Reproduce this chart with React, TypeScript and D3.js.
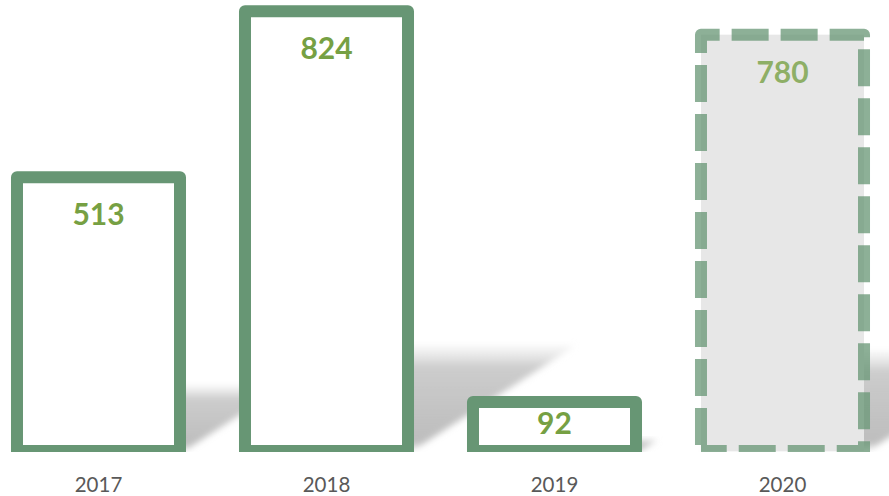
import React from "react";
import * as d3 from "d3";

const categories = ["2017", "2018", "2019", "2020"];
const values = [513, 824, 92, 780];
const forecast = [false, false, false, true];

const W = 889;
const H = 496;

export default function App() {
  const x = d3
    .scaleBand<string>()
    .domain(categories)
    .range([-15.5, 896.5])
    .paddingInner(0.285)
    .paddingOuter(0.1425);
  const y = d3.scaleLinear().domain([0, 900]).range([451, -29.4]);
  const green = "#679674";
  const labelGreen = "#76a043";
  const base = y(0);

  return (
    <svg
      width={W}
      height={H}
      style={{ position: "absolute", left: 0, top: 0, background: "#fff" }}
      fontFamily="Lato, 'Open Sans', sans-serif"
    >
      <defs>
        <linearGradient id="shadowGrad" x1="0" y1="1" x2="0" y2="0">
          <stop offset="0%" stopColor="#9a9a9a" stopOpacity={0.0} />
          <stop offset="8%" stopColor="#a8a8a8" stopOpacity={0.75} />
          <stop offset="80%" stopColor="#c4c4c4" stopOpacity={0.85} />
          <stop offset="100%" stopColor="#e6e6e6" stopOpacity={0.3} />
        </linearGradient>
        <filter id="blur" x="-20%" y="-20%" width="140%" height="140%">
          <feGaussianBlur stdDeviation="3" />
        </filter>
        <clipPath id="plotClip">
          <rect x={0} y={0} width={W} height={452} />
        </clipPath>
      </defs>
      <g clipPath="url(#plotClip)">
        {categories.map((c, i) => {
          const x0 = x(c)!;
          const x1 = x0 + x.bandwidth();
          const top = y(values[i]);
          const hgt = (base - top) * 0.24;
          const s = 1.55;
          const pts = [
            [x0, base],
            [x1 + 4, base],
            [x1 + 4 + s * hgt, base - hgt],
            [x0 + s * hgt, base - hgt],
          ];
          return (
            <polygon
              key={"sh" + c}
              points={pts.map((p) => p.join(",")).join(" ")}
              fill="url(#shadowGrad)"
              filter="url(#blur)"
            />
          );
        })}
        {categories.map((c, i) => {
          const x0 = x(c)!;
          const x1 = x0 + x.bandwidth();
          const top = y(values[i]);
          if (forecast[i]) {
            const d = `M${x0},${base} L${x0},${top} L${x1},${top} L${x1},${base} Z`;
            return (
              <g key={"b" + c}>
                <rect x={x0} y={top} width={x1 - x0} height={base - top} fill="#e7e7e7" />
                <path
                  d={d}
                  fill="none"
                  stroke={green}
                  strokeOpacity={0.75}
                  strokeWidth={12}
                  strokeDasharray="37 12"
                  strokeDashoffset={-6}
                  strokeLinejoin="round"
                />
              </g>
            );
          }
          return (
            <rect
              key={"b" + c}
              x={x0}
              y={top}
              width={x1 - x0}
              height={base - top}
              fill="#fff"
              stroke={green}
              strokeWidth={12}
              strokeLinejoin="round"
            />
          );
        })}
      </g>
      {categories.map((c, i) => {
        const cx = x(c)! + x.bandwidth() / 2;
        const top = y(values[i]);
        const ty = Math.min(top + 36, (top + base) / 2 - 4);
        return (
          <text
            key={"l" + c}
            x={cx}
            y={ty}
            textAnchor="middle"
            dominantBaseline="central"
            fontSize={30}
            fontWeight={700}
            fill={labelGreen}
            fillOpacity={forecast[i] ? 0.8 : 1}
          >
            {values[i]}
          </text>
        );
      })}
      {categories.map((c) => (
        <text
          key={"c" + c}
          x={x(c)! + x.bandwidth() / 2}
          y={491.5}
          textAnchor="middle"
          fontSize={20.5}
          fill="#595959"
        >
          {c}
        </text>
      ))}
    </svg>
  );
}
